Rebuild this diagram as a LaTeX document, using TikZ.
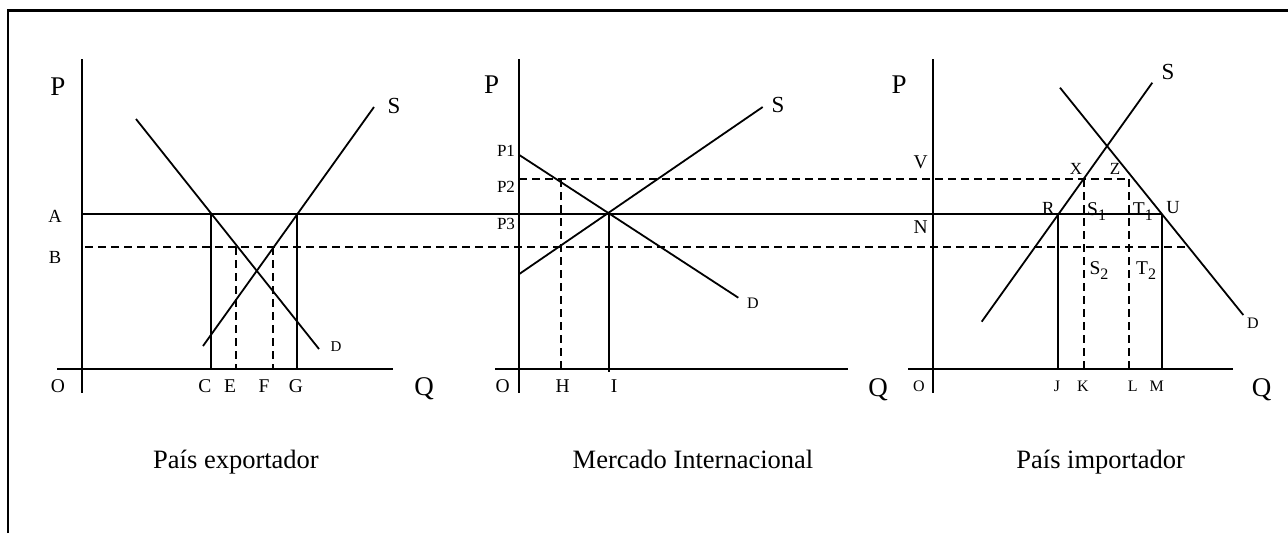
\documentclass[tikz,border=0pt]{standalone}
\usepackage{fontspec}
\setmainfont{Liberation Serif}
\newcommand\lowsub[1]{\raisebox{-0.3em}{\fontsize{16}{16}\selectfont #1}}
\tikzset{
  curve/.style={line width=1.8pt},
  guide/.style={line width=1.8pt, dash pattern=on 8pt off 5pt},
  lab/.style={inner sep=0pt, font=\fontsize{#1}{#1}\selectfont},
  lab/.default=19.5,
}
\begin{document}
\begin{tikzpicture}[x=1pt,y=-1pt]
\useasboundingbox (0,0) rectangle (1288,533);
% frame
\draw[line width=2.7pt] (8,533) -- (8,10.5) -- (1288,10.5);
% axes of the three markets
\foreach \ox/\xa/\xb in {81.7/57/393, 519.3/495/848, 933.3/908/1232.7} {
  \draw[curve] (\ox,59) -- (\ox,393);
  \draw[curve] (\xa,369) -- (\xb,369);
}
% price lines across the markets
\coordinate (pa) at (81.7,214);  \coordinate (pu) at (1161.7,214);
\coordinate (pb) at (85,247);    \coordinate (pbend) at (1185,247);
\coordinate (pp) at (519.3,179); \coordinate (pz) at (1128.7,179);
\draw[curve] (pa) -- (pu);
\draw[guide] (pb) -- (pbend);
\draw[guide] (pp) -- (pz);

% exporting country
\draw[curve] (136,119) -- (319,349);
\draw[curve] (203,346) -- (374,107);
\foreach \x in {211,297} \draw[curve] (\x,214) -- (\x,369);
\foreach \x in {236,273} \draw[guide] (\x,247) -- (\x,369);

% international market
\draw[curve] (519.3,155) -- (738.3,297.7);
\draw[curve] (519.3,274) -- (762.7,107);
\draw[curve] (609,214) -- (609,372);
\draw[guide] (560.7,179) -- (560.7,369);

% importing country
\draw[curve] (981.7,321.7) -- (1152.3,82.7);
\draw[curve] (1060,87.7) -- (1243.3,315);
\foreach \x in {1058.3,1161.7} \draw[curve] (\x,214) -- (\x,369);
\foreach \x in {1084,1128.7} \draw[guide] (\x,179) -- (\x,369);

% axis names
\foreach \n/\x/\y in {p1/58/87, p2/491.7/85, p3/899/85}
  \node[lab=27] (\n) at (\x,\y) {P};
\foreach \n/\x/\y in {q1/424/389, q2/878/390, q3/1261.7/390}
  \node[lab=27] (\n) at (\x,\y) {Q};
\node[lab=23] (s1) at (394,106) {S};
\node[lab=23] (s2) at (778,105) {S};
\node[lab=23] (s3) at (1168,72) {S};
\node[lab=15] (d1) at (336,347) {D};
\node[lab=16] (d2) at (753,303) {D};
\node[lab=16] (d3) at (1253,323) {D};

% points on the axes
\foreach \t/\x in {O/58,C/205,E/230,F/264,G/296}
  \node[lab] (ea\t) at (\x,386) {\t};
\node[lab=18.5] (eaA) at (55,216) {A};
\node[lab=18.5] (eaB) at (55,257) {B};
\foreach \t/\x in {O/502.7,H/562.7,I/614}
  \node[lab] (ma\t) at (\x,386) {\t};
\foreach \t/\y in {1/151,2/187,3/224}
  \node[lab=17] (maP\t) at (506,\y) {P\t};
\foreach \t/\x in {O/919,J/1057,K/1083,L/1132.7,M/1156.7}
  \node[lab=16] (ia\t) at (\x,386) {\t};
\node[lab] (iaV) at (920.7,162) {V};
\node[lab] (iaN) at (920.7,227) {N};
\node[lab=17] (iaX) at (1076,169) {X};
\node[lab=17] (iaZ) at (1115,169) {Z};
\node[lab=18.5] (iaR) at (1048.3,208) {R};
\node[lab=18.5] (iaU) at (1173,208) {U};
\node[lab, anchor=base west] (iaS1) at (1087,215) {S\lowsub{1}};
\node[lab, anchor=base west] (iaT1) at (1132.7,215) {T\lowsub{1}};
\node[lab, anchor=base west] (iaS2) at (1089.3,274) {S\lowsub{2}};
\node[lab, anchor=base west] (iaT2) at (1136,274) {T\lowsub{2}};

% captions
\node[lab=26.5, anchor=base] (cap1) at (236,468) {País exportador};
\node[lab=26.5, anchor=base] (cap2) at (693,468) {Mercado Internacional};
\node[lab=26.5, anchor=base] (cap3) at (1100.7,468) {País importador};
\end{tikzpicture}
\end{document}
